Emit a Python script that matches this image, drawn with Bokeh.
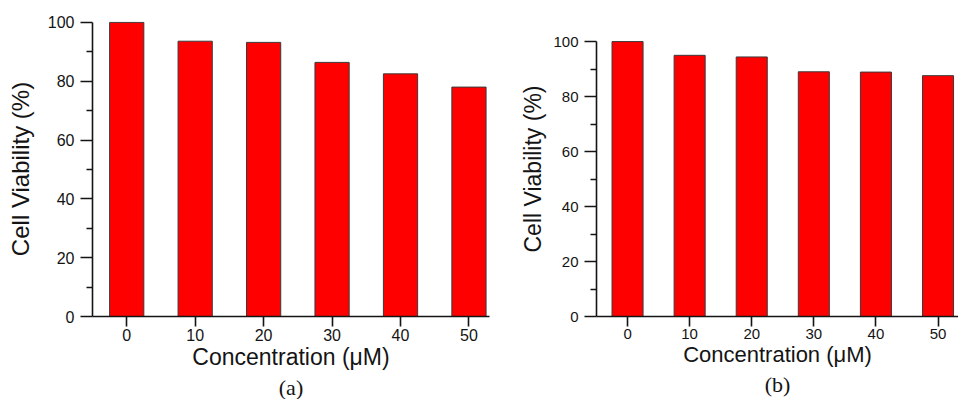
from bokeh.plotting import figure
from bokeh.layouts import row
from bokeh.models import Range1d, FixedTicker, Title
from bokeh.embed import file_html
from bokeh.resources import INLINE

# ---- data ----
concentrations = [0, 10, 20, 30, 40, 50]
viability_a = [100.0, 93.6, 93.2, 86.4, 82.5, 78.0]
viability_b = [100.0, 95.0, 94.4, 89.0, 88.9, 87.6]
y_major_ticks = [0, 20, 40, 60, 80, 100]
y_minor_ticks = [10, 30, 50, 70, 90]
x_tick_labels = ["0", "10", "20", "30", "40", "50"]
captions = ["(a)", "(b)"]

SANS = "Liberation Sans"
SERIF = "Liberation Serif"
INK = "#141414"


def make_panel(values, caption, width, height, border_left, border_right,
               x_end, y_top, tick_size, xlabel_size, ylabel_size,
               ylabel_standoff):
    p = figure(width=width, height=height, output_backend="svg",
               toolbar_location=None, title=None,
               x_range=Range1d(-5, x_end), y_range=Range1d(0, y_top),
               min_border_left=border_left, min_border_top=21,
               min_border_right=border_right, min_border_bottom=0)
    p.vbar(x=concentrations, top=values, width=5, bottom=0,
           fill_color="#ff0000", line_color="#3a3a3a", line_width=1)
    p.grid.visible = False
    p.outline_line_color = None
    p.background_fill_color = "white"
    p.border_fill_color = "white"

    xa = p.xaxis[0]
    xa.ticker = FixedTicker(ticks=concentrations)
    xa.major_label_overrides = {c: t for c, t in zip(concentrations, x_tick_labels)}
    xa.major_tick_out = 10
    xa.major_tick_in = 0
    xa.minor_tick_out = 0
    xa.minor_tick_in = 0
    xa.axis_line_width = 1.6
    xa.major_tick_line_width = 1.6
    xa.axis_line_color = INK
    xa.major_tick_line_color = INK
    xa.major_label_text_font = SANS
    xa.major_label_text_font_size = tick_size
    xa.major_label_text_color = INK
    xa.major_label_standoff = 2
    xa.axis_label = "Concentration (\u03bcM)"
    xa.axis_label_text_font = SANS
    xa.axis_label_text_font_style = "normal"
    xa.axis_label_text_font_size = xlabel_size
    xa.axis_label_text_color = INK
    xa.axis_label_standoff = 0

    ya = p.yaxis[0]
    ya.bounds = (0, 100)
    ya.ticker = FixedTicker(ticks=y_major_ticks, minor_ticks=y_minor_ticks)
    ya.major_tick_out = 12
    ya.major_tick_in = 0
    ya.minor_tick_out = 6
    ya.minor_tick_in = 0
    ya.axis_line_width = 1.6
    ya.major_tick_line_width = 1.6
    ya.minor_tick_line_width = 1.6
    ya.axis_line_color = INK
    ya.major_tick_line_color = INK
    ya.minor_tick_line_color = INK
    ya.major_label_text_font = SANS
    ya.major_label_text_font_size = tick_size
    ya.major_label_text_color = INK
    ya.major_label_standoff = 6
    ya.axis_label = "Cell Viability (%)"
    ya.axis_label_text_font = SANS
    ya.axis_label_text_font_style = "normal"
    ya.axis_label_text_font_size = ylabel_size
    ya.axis_label_text_color = INK
    ya.axis_label_standoff = ylabel_standoff

    t = Title(text=caption, align="center", text_font=SERIF,
              text_font_size="22px", text_font_style="normal",
              text_color=INK, standoff=0, offset=0)
    p.add_layout(t, "below")
    return p


# (a): 0..100 fills the frame; (b): the 0..100 axis sits lower in a taller range
pa = make_panel(viability_a, captions[0], 490, 399, 92, 1, 53, 100.3,
                "16px", "23px", "24px", 11)
pb = make_panel(viability_b, captions[1], 468, 399, 106, 0, 53.3, 107.3,
                "15px", "22px", "23px", 4)

layout = row(pa, pb)
open("out.html", "w").write(file_html(layout, INLINE))
